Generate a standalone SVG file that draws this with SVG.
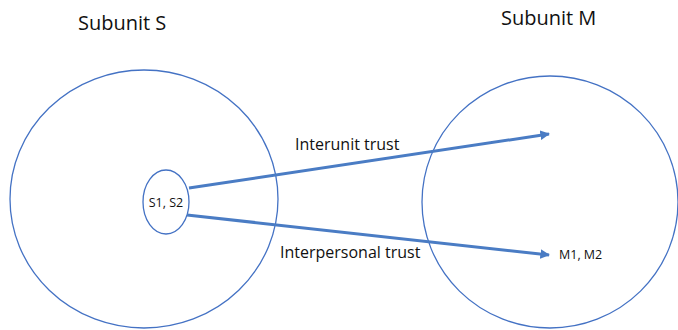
<svg xmlns="http://www.w3.org/2000/svg" width="678" height="330" viewBox="0 0 678 330">
<defs>
<style>
.ell{fill:none;stroke:#4472C4;stroke-width:1.3}
.arr{fill:none;stroke:#4A7CC4;stroke-width:3;marker-end:url(#ah)}
text{font-family:"Open Sans","Liberation Sans",sans-serif;fill:#111}
.big{font-size:20px}
.mid{font-size:16px}
.sm{font-size:12.5px}
</style>
<marker id="ah" viewBox="0 0 10 10" refX="9" refY="5" markerWidth="3.2" markerHeight="3.2" orient="auto" markerUnits="strokeWidth">
<path d="M0,0 L10,5 L0,10 z" fill="#4A7CC4"/>
</marker>
</defs>
<rect width="678" height="330" fill="#fff"/>
<g id="subunitS">
<ellipse class="ell" cx="144" cy="199" rx="134" ry="129"/>
<text class="big" x="78" y="30">Subunit S</text>
</g>
<g id="subunitM">
<ellipse class="ell" cx="550" cy="202" rx="128" ry="126"/>
<text class="big" x="501" y="25">Subunit M</text>
</g>
<g id="s1s2">
<ellipse class="ell" cx="166" cy="202" rx="23" ry="32"/>
<text class="sm" x="166" y="207" text-anchor="middle">S1, S2</text>
</g>
<g id="m1m2">
<text class="sm" x="559" y="259">M1, M2</text>
</g>
<g id="connectors">
<line class="arr" x1="189" y1="188" x2="549" y2="134"/>
<line class="arr" x1="187" y1="215" x2="549" y2="255"/>
<text class="mid" x="295" y="150">Interunit trust</text>
<text class="mid" x="280" y="258">Interpersonal trust</text>
</g>
</svg>
